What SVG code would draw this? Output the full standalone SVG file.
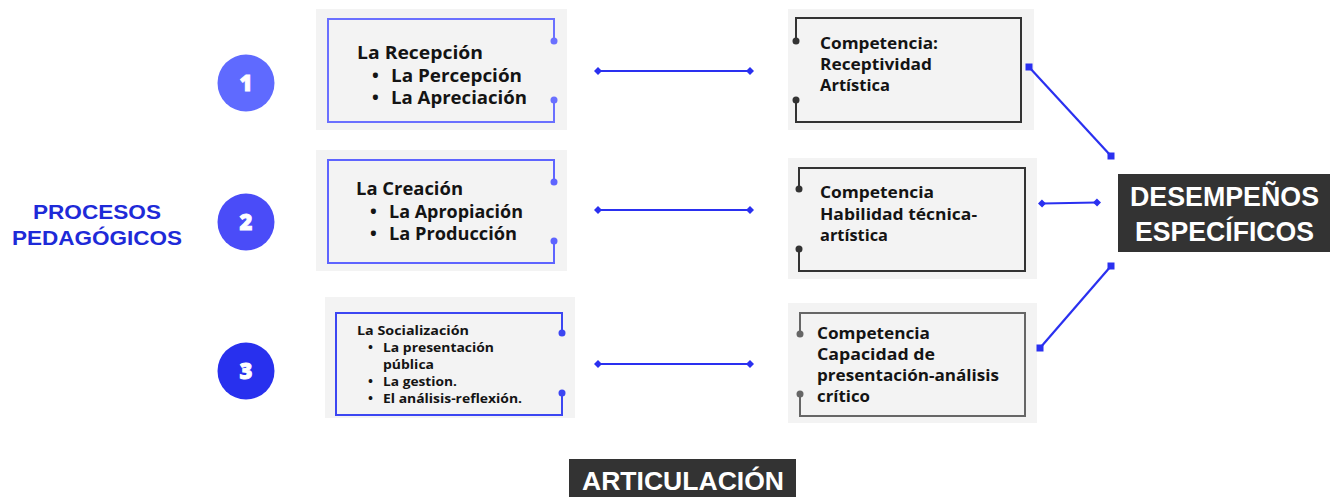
<svg xmlns="http://www.w3.org/2000/svg" width="1330" height="497" viewBox="0 0 1330 497">
<style>
.bg{fill:#f3f3f3}
.frame{fill:none;stroke-width:2}
.t{font-family:"Open Sans","Liberation Sans",sans-serif;font-weight:700;fill:#141414}
.big{font-size:18px}
.sm{font-size:13.2px}
.rt{font-size:16.3px}
.num{font-family:"Open Sans","Liberation Sans",sans-serif;font-weight:800;font-size:22px;fill:#fff;stroke:#fff;stroke-width:0.9;text-anchor:middle}
.hd{font-family:"Liberation Sans","Open Sans",sans-serif;font-weight:700;fill:#fff}
.proc{font-family:"Liberation Sans","Open Sans",sans-serif;font-weight:700;font-size:20px;fill:#1e2ad8}
.conn{stroke:#2a30f0;stroke-width:2.2;fill:none}
</style>
<defs>
<marker id="dia" markerUnits="userSpaceOnUse" markerWidth="10" markerHeight="10" refX="5" refY="5" orient="auto">
<path d="M1,5 L5,1 L9,5 L5,9 Z" fill="#2a30f0"/>
</marker>
<marker id="sq" markerUnits="userSpaceOnUse" markerWidth="8" markerHeight="8" refX="4" refY="4">
<rect x="0.5" y="0.5" width="7" height="7" fill="#2a30f0"/>
</marker>
</defs>

<g id="title-procesos">
<text class="proc" x="33" y="219" textLength="128" lengthAdjust="spacingAndGlyphs">PROCESOS</text>
<text class="proc" x="12" y="245" textLength="170" lengthAdjust="spacingAndGlyphs">PEDAGÓGICOS</text>
</g>

<g id="num1"><circle cx="246" cy="83" r="28.5" fill="#5f6aff"/><text class="num" x="246" y="91">1</text></g>
<g id="num2"><circle cx="246" cy="222" r="28.5" fill="#4a4cf8"/><text class="num" x="246" y="230">2</text></g>
<g id="num3"><circle cx="246" cy="371" r="28.5" fill="#2830ee"/><text class="num" x="246" y="379">3</text></g>

<g id="recepcion">
<rect class="bg" x="316" y="9" width="251" height="121"/>
<path class="frame" stroke="#6a70ff" d="M554,41 L554,19 L328,19 L328,122 L554,122 L554,100"/>
<circle cx="554" cy="41" r="3.5" fill="#6a70ff"/><circle cx="554" cy="100" r="3.5" fill="#6a70ff"/>
<text class="t big" x="357" y="59" textLength="126" lengthAdjust="spacingAndGlyphs">La Recepción</text>
<text class="t big" x="372" y="82">•</text><text class="t big" x="391" y="82" textLength="131" lengthAdjust="spacingAndGlyphs">La Percepción</text>
<text class="t big" x="372" y="104">•</text><text class="t big" x="391" y="104" textLength="136" lengthAdjust="spacingAndGlyphs">La Apreciación</text>
</g>

<g id="creacion">
<rect class="bg" x="316" y="150" width="251" height="121"/>
<path class="frame" stroke="#5e64ff" d="M554,182 L554,160 L328,160 L328,263 L554,263 L554,241"/>
<circle cx="554" cy="182" r="3.5" fill="#5e64ff"/><circle cx="554" cy="241" r="3.5" fill="#5e64ff"/>
<text class="t big" x="356" y="195" textLength="107" lengthAdjust="spacingAndGlyphs">La Creación</text>
<text class="t big" x="370" y="218">•</text><text class="t big" x="389" y="218" textLength="134" lengthAdjust="spacingAndGlyphs">La Apropiación</text>
<text class="t big" x="370" y="240">•</text><text class="t big" x="389" y="240" textLength="128" lengthAdjust="spacingAndGlyphs">La Producción</text>
</g>

<g id="socializacion">
<rect class="bg" x="325" y="297" width="250" height="121"/>
<path class="frame" stroke="#3c46f2" d="M562,333 L562,313 L336,313 L336,415 L562,415 L562,393"/>
<circle cx="562" cy="333" r="3.5" fill="#3c46f2"/><circle cx="562" cy="393" r="3.5" fill="#3c46f2"/>
<text class="t sm" x="357" y="335" textLength="112" lengthAdjust="spacingAndGlyphs">La Socialización</text>
<text class="t sm" x="368" y="351.5">•</text><text class="t sm" x="383" y="351.5" textLength="111" lengthAdjust="spacingAndGlyphs">La presentación</text>
<text class="t sm" x="383" y="369" textLength="51" lengthAdjust="spacingAndGlyphs">pública</text>
<text class="t sm" x="368" y="386">•</text><text class="t sm" x="383" y="386" textLength="74" lengthAdjust="spacingAndGlyphs">La gestion.</text>
<text class="t sm" x="368" y="403">•</text><text class="t sm" x="383" y="403" textLength="139" lengthAdjust="spacingAndGlyphs">El análisis-reflexión.</text>
</g>

<g id="comp1">
<rect class="bg" x="788" y="9" width="246" height="121"/>
<path class="frame" stroke="#333" d="M796,41 L796,18 L1021,18 L1021,122 L796,122 L796,100"/>
<circle cx="796" cy="41" r="3.5" fill="#333"/><circle cx="796" cy="100" r="3.5" fill="#333"/>
<text class="t rt" x="820" y="49" textLength="118" lengthAdjust="spacingAndGlyphs">Competencia:</text>
<text class="t rt" x="820" y="70" textLength="112" lengthAdjust="spacingAndGlyphs">Receptividad</text>
<text class="t rt" x="820" y="91" textLength="70" lengthAdjust="spacingAndGlyphs">Artística</text>
</g>

<g id="comp2">
<rect class="bg" x="788" y="158" width="249" height="121"/>
<path class="frame" stroke="#333" d="M799,189 L799,168 L1025,168 L1025,271 L799,271 L799,249"/>
<circle cx="799" cy="189" r="3.5" fill="#333"/><circle cx="799" cy="249" r="3.5" fill="#333"/>
<text class="t rt" x="820" y="198" textLength="114" lengthAdjust="spacingAndGlyphs">Competencia</text>
<text class="t rt" x="820" y="220" textLength="157" lengthAdjust="spacingAndGlyphs">Habilidad técnica-</text>
<text class="t rt" x="820" y="241" textLength="68" lengthAdjust="spacingAndGlyphs">artística</text>
</g>

<g id="comp3">
<rect class="bg" x="788" y="303" width="249" height="120"/>
<path class="frame" stroke="#666" d="M800,334 L800,313 L1025,313 L1025,416 L800,416 L800,394"/>
<circle cx="800" cy="334" r="3.5" fill="#666"/><circle cx="800" cy="394" r="3.5" fill="#666"/>
<text class="t rt" x="817" y="339" textLength="113" lengthAdjust="spacingAndGlyphs">Competencia</text>
<text class="t rt" x="817" y="360" textLength="118" lengthAdjust="spacingAndGlyphs">Capacidad de</text>
<text class="t rt" x="817" y="381" textLength="182" lengthAdjust="spacingAndGlyphs">presentación-análisis</text>
<text class="t rt" x="817" y="402" textLength="53" lengthAdjust="spacingAndGlyphs">crítico</text>
</g>

<g id="desempenos">
<rect x="1118" y="174" width="212" height="78" fill="#333"/>
<text class="hd" x="1130" y="206" font-size="27" textLength="189" lengthAdjust="spacingAndGlyphs">DESEMPEÑOS</text>
<text class="hd" x="1135" y="241" font-size="27" textLength="179" lengthAdjust="spacingAndGlyphs">ESPECÍFICOS</text>
</g>

<g id="articulacion">
<rect x="569" y="459" width="227" height="40" fill="#333"/>
<text class="hd" x="582" y="490" font-size="25" textLength="202" lengthAdjust="spacingAndGlyphs">ARTICULACIÓN</text>
</g>

<g id="connectors">
<line class="conn" x1="598" y1="71" x2="750" y2="71" marker-start="url(#dia)" marker-end="url(#dia)"/>
<line class="conn" x1="598" y1="210" x2="750" y2="210" marker-start="url(#dia)" marker-end="url(#dia)"/>
<line class="conn" x1="598" y1="364" x2="750" y2="364" marker-start="url(#dia)" marker-end="url(#dia)"/>
<line class="conn" x1="1042" y1="203.5" x2="1097" y2="202.5" marker-start="url(#dia)" marker-end="url(#dia)"/>
<line class="conn" x1="1029" y1="67" x2="1111" y2="156" marker-start="url(#sq)" marker-end="url(#sq)"/>
<line class="conn" x1="1040" y1="348" x2="1111" y2="266" marker-start="url(#sq)" marker-end="url(#sq)"/>
</g>
</svg>
